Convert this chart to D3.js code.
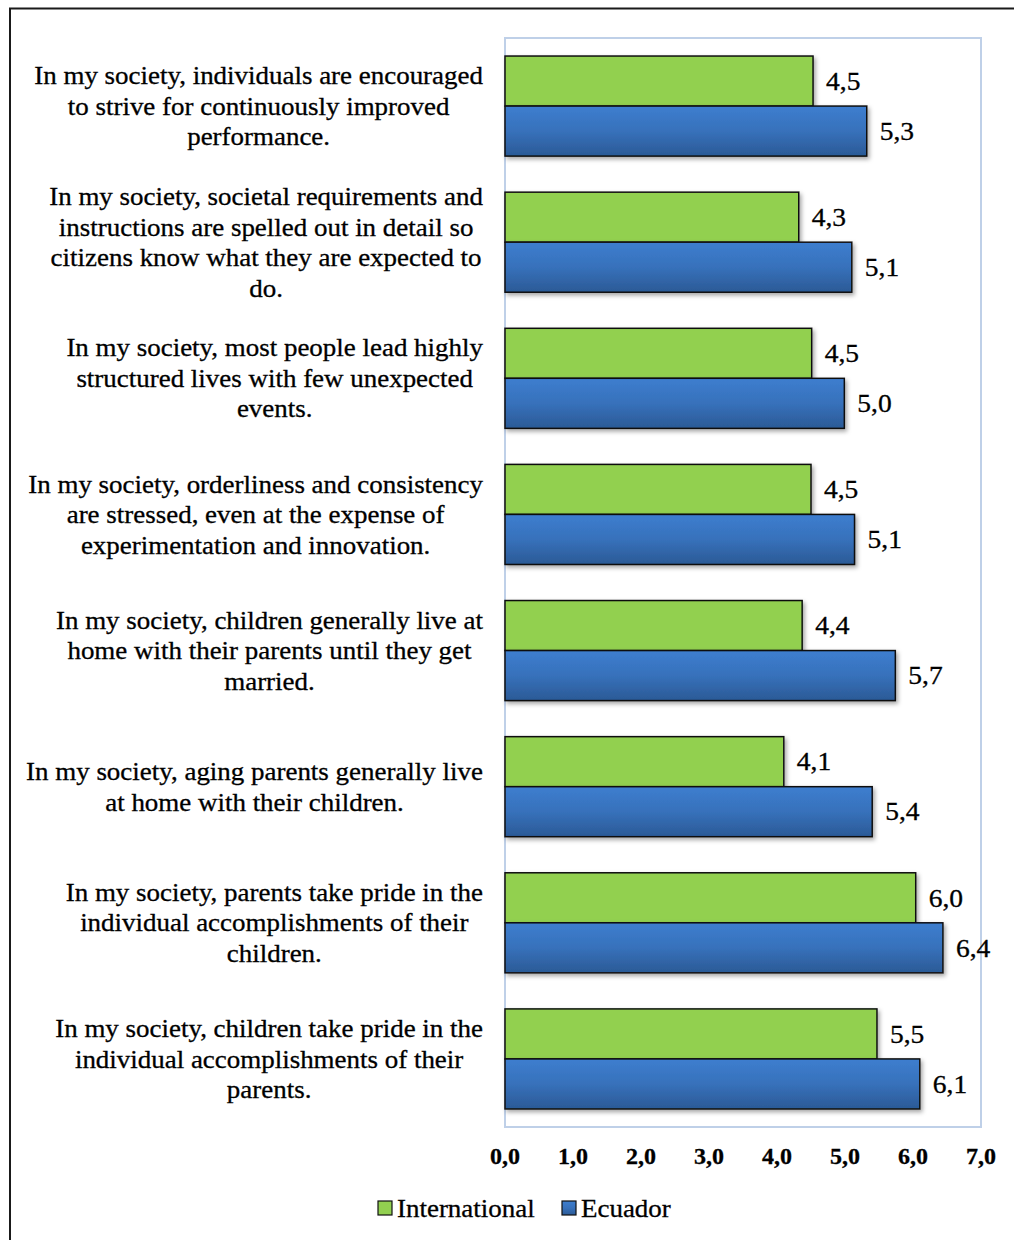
<!DOCTYPE html>
<html>
<head>
<meta charset="utf-8">
<script src="https://cdn.jsdelivr.net/npm/d3@7"></script>
<style>
  html, body { margin: 0; padding: 0; background: #fff; }
  svg { display: block; }
  text { font-family: "Liberation Serif", "Times New Roman", serif; fill: #000; stroke: #000; stroke-width: 0.3px; }
</style>
</head>
<body>
<svg id="chart" width="1014" height="1240"></svg>
<script>
const categories = [
  ["In my society, individuals are encouraged", "to strive for continuously improved", "performance."],
  ["In my society, societal requirements and", "instructions are spelled out in detail so", "citizens know what they are expected to", "do."],
  ["In my society, most people lead highly", "structured lives with few unexpected", "events."],
  ["In my society, orderliness and consistency", "are stressed, even at the expense of", "experimentation and innovation."],
  ["In my society, children generally live at", "home with their parents until they get", "married."],
  ["In my society, aging parents generally live", "at home with their children."],
  ["In my society, parents take pride in the", "individual accomplishments of their", "children."],
  ["In my society, children take pride in the", "individual accomplishments of their", "parents."]
];
const seriesNames = ["International", "Ecuador"];
const international = [4.53, 4.32, 4.51, 4.50, 4.37, 4.10, 6.04, 5.47];
const ecuador = [5.32, 5.10, 4.99, 5.14, 5.74, 5.40, 6.44, 6.10];
const xTicks = [0, 1, 2, 3, 4, 5, 6, 7];

const SX = 1.1; // horizontal text stretch
const fmt = v => v.toFixed(1).replace(".", ",");

const svg = d3.select("#chart");
const defs = svg.append("defs");
const grad = defs.append("linearGradient").attr("id", "blueGrad")
  .attr("x1", 0).attr("y1", 0).attr("x2", 0).attr("y2", 1);
grad.append("stop").attr("offset", "0%").attr("stop-color", "#3d7ecf");
grad.append("stop").attr("offset", "50%").attr("stop-color", "#3771bb");
grad.append("stop").attr("offset", "100%").attr("stop-color", "#2b5a96");
const flt = defs.append("filter").attr("id", "shadow")
  .attr("x", "-5%").attr("y", "-20%").attr("width", "115%").attr("height", "150%");
flt.append("feDropShadow").attr("dx", 2).attr("dy", 2.5).attr("stdDeviation", 2)
  .attr("flood-color", "#000").attr("flood-opacity", 0.35);

// outer border
svg.append("rect").attr("x", 10).attr("y", 8.5).attr("width", 1100).attr("height", 1300)
  .attr("fill", "none").attr("stroke", "#1a1a1a").attr("stroke-width", 2);

const plot = { left: 505, right: 981, top: 38, bottom: 1127 };

const x = d3.scaleLinear().domain([0, 7]).range([plot.left, plot.right]);
const y = d3.scaleBand().domain(d3.range(categories.length))
  .range([plot.top, plot.bottom]).paddingInner(0.265).paddingOuter(0.1325);
const ySub = d3.scaleBand().domain(seriesNames).range([0, y.bandwidth()]);

// plot area border
svg.append("rect").attr("x", plot.left).attr("y", plot.top)
  .attr("width", plot.right - plot.left).attr("height", plot.bottom - plot.top)
  .attr("fill", "none").attr("stroke", "#bfd0e8").attr("stroke-width", 2);

const colors = { "International": "#92d050", "Ecuador": "url(#blueGrad)" };
const seriesData = seriesNames.map((name, si) => ({
  name, values: si === 0 ? international : ecuador
}));

const gBars = svg.append("g");
seriesData.forEach(s => {
  gBars.selectAll(null).data(s.values).enter().append("rect")
    .attr("x", x(0))
    .attr("y", (d, i) => y(i) + ySub(s.name))
    .attr("width", d => x(d) - x(0))
    .attr("height", ySub.bandwidth())
    .attr("fill", colors[s.name])
    .attr("stroke", "#111")
    .attr("stroke-width", 1.5)
    .attr("filter", "url(#shadow)");
});

// value labels
seriesData.forEach(s => {
  svg.selectAll(null).data(s.values).enter().append("text")
    .attr("transform", (d, i) => `translate(${x(d) + 13},${y(i) + ySub(s.name) + ySub.bandwidth() / 2}) scale(${SX},1)`)
    .attr("dy", "0.35em")
    .attr("font-size", 25)
    .text(d => fmt(d));
});

// category labels
const lineH = 30.5;
categories.forEach((lines, i) => {
  const cy = y(i) + y.bandwidth() / 2;
  const g = svg.append("g");
  const texts = lines.map((ln, j) => g.append("text")
    .attr("font-size", 24.5)
    .attr("text-anchor", "middle")
    .attr("dy", "0.35em")
    .text(ln));
  const maxW = d3.max(texts, t => t.node().getComputedTextLength()) * SX;
  const cx = 483 - maxW / 2;
  texts.forEach((t, j) => {
    const ly = cy + (j - (lines.length - 1) / 2) * lineH;
    t.attr("transform", `translate(${cx},${ly}) scale(${SX},1)`);
  });
});

// x axis tick labels
svg.selectAll(null).data(xTicks).enter().append("text")
  .attr("transform", d => `translate(${x(d)},1155.5)`)
  .attr("text-anchor", "middle")
  .attr("dy", "0.35em")
  .attr("font-size", 24)
  .attr("font-weight", "bold")
  .text(d => fmt(d));

// legend
const legendItems = [
  { name: "International", fill: "#92d050", x: 378 },
  { name: "Ecuador", fill: "url(#blueGrad)", x: 562 }
];
const lg = svg.append("g");
legendItems.forEach(it => {
  lg.append("rect").attr("x", it.x).attr("y", 1201).attr("width", 14).attr("height", 14)
    .attr("fill", it.fill).attr("stroke", "#111").attr("stroke-width", 1.2);
  lg.append("text")
    .attr("transform", `translate(${it.x + 19},1208) scale(${SX},1)`)
    .attr("dy", "0.35em")
    .attr("font-size", 24.5)
    .text(it.name);
});
</script>
</body>
</html>
